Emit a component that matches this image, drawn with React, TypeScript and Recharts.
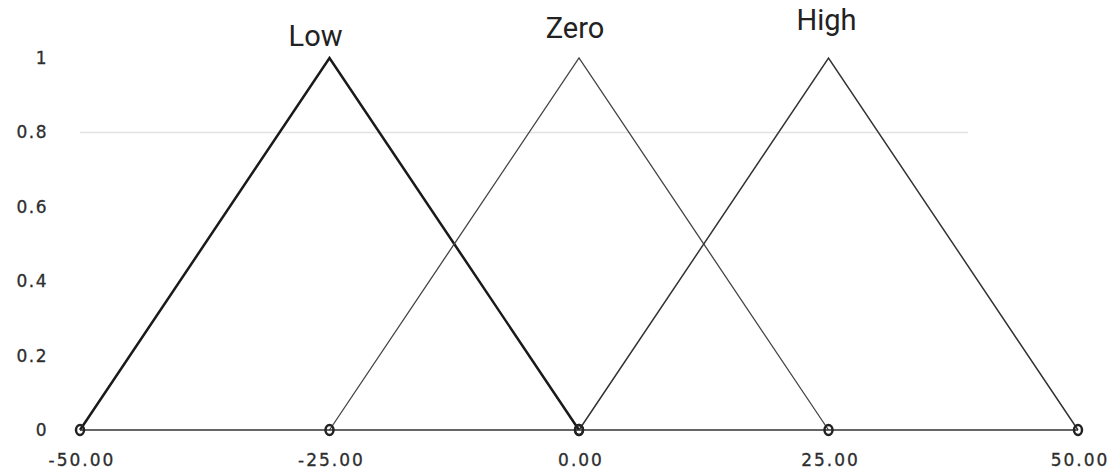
import React from 'react';
import { LineChart, Line, XAxis, YAxis, ReferenceLine } from 'recharts';

const lowX = [-50, -25, 0];
const lowY = [0, 1, 0];
const zeroX = [-25, 0, 25];
const zeroY = [0, 1, 0];
const highX = [0, 25, 50];
const highY = [0, 1, 0];
const xTicks = [-50, -25, 0, 25, 50];
const yTicks = [0, 0.2, 0.4, 0.6, 0.8, 1];
const yTickLabels = ['0', '0.2', '0.4', '0.6', '0.8', '1'];
const seriesNames = ['Low', 'Zero', 'High'];

const toRows = (xs: number[], ys: number[]) => xs.map((x, i) => ({ x, y: ys[i] }));
const lowData = toRows(lowX, lowY);
const zeroData = toRows(zeroX, zeroY);
const highData = toRows(highX, highY);

const labelOffsets = [-12, -20, -28];
const labelShift = [-14, -4, -2];

const makeDot = () => (props: any) => {
  const { cx, cy, payload, index } = props;
  if (payload.y !== 0) return <g key={`d${index}`} />;
  return (
    <ellipse key={`d${index}`} cx={cx} cy={cy} rx={4} ry={5} fill="none" stroke="#222" strokeWidth={2.5} />
  );
};

const makeLabel = (name: string, off: number, dx: number) => (props: any) => {
  const { x, y, value, index } = props;
  if (value !== 1) return <g key={`l${index}`} />;
  return (
    <text key={`l${index}`} x={x + dx} y={y + off} textAnchor="middle" fontFamily="Roboto, Arial, sans-serif" fontSize={29} fill="#222">
      {name}
    </text>
  );
};

const YTick = (props: any) => {
  const { y, payload } = props;
  const i = yTicks.indexOf(payload.value);
  return (
    <text x={48} y={y + 6} textAnchor="end" fontFamily="'DejaVu Sans', Verdana, sans-serif" fontSize={17} letterSpacing={1.5} fill="#2e2e2e" stroke="#2e2e2e" strokeWidth={0.3}>
      {yTickLabels[i]}
    </text>
  );
};

const XTick = (props: any) => {
  const { x, y, payload } = props;
  return (
    <text x={x + 2} y={y + 28} textAnchor="middle" fontFamily="'DejaVu Sans', Verdana, sans-serif" fontSize={17} letterSpacing={2} fill="#2e2e2e" stroke="#2e2e2e" strokeWidth={0.3}>
      {payload.value.toFixed(2)}
    </text>
  );
};

export default function App() {
  return (
    <div style={{ position: 'absolute', left: 0, top: 0, background: '#fff' }}>
      <LineChart width={1118} height={471} margin={{ top: 58, right: 40, bottom: 0, left: 0 }}>
        <XAxis
          type="number"
          dataKey="x"
          domain={[-50, 50]}
          ticks={xTicks}
          tick={<XTick />}
          tickLine={false}
          axisLine={{ stroke: '#333', strokeWidth: 1.5 }}
          height={41}
          allowDuplicatedCategory={false}
        />
        <YAxis
          type="number"
          domain={[0, 1]}
          ticks={yTicks}
          tick={<YTick />}
          tickLine={false}
          axisLine={false}
          width={80}
        />
        <ReferenceLine
          segment={[{ x: -50, y: 0.8 }, { x: 39, y: 0.8 }]}
          stroke="#e2e2e2"
          strokeWidth={1.5}
        />
        <Line data={lowData} dataKey="y" stroke="#1a1a1a" strokeWidth={2.5} isAnimationActive={false} dot={makeDot()} label={makeLabel(seriesNames[0], labelOffsets[0], labelShift[0])} />
        <Line data={zeroData} dataKey="y" stroke="#444" strokeWidth={1.3} isAnimationActive={false} dot={makeDot()} label={makeLabel(seriesNames[1], labelOffsets[1], labelShift[1])} />
        <Line data={highData} dataKey="y" stroke="#333" strokeWidth={1.5} isAnimationActive={false} dot={makeDot()} label={makeLabel(seriesNames[2], labelOffsets[2], labelShift[2])} />
      </LineChart>
    </div>
  );
}
